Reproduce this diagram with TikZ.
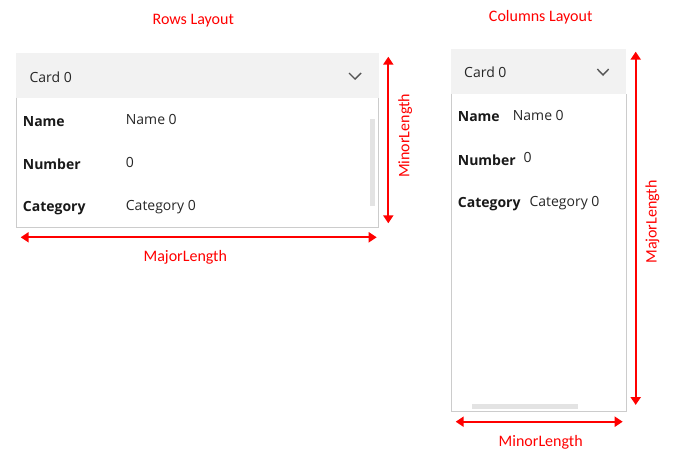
\documentclass[tikz,border=0pt]{standalone}
\usepackage{fontspec}
\setmainfont{Carlito}
\newfontfamily\uifont{Open Sans}
\usetikzlibrary{arrows.meta}

\definecolor{dimred}{rgb}{1,0,0}
\definecolor{headgray}{HTML}{F2F2F2}
\definecolor{edgegray}{HTML}{CCCCCC}
\definecolor{bargray}{HTML}{E3E3E3}
\definecolor{chevgray}{HTML}{555555}

\begin{document}
\begin{tikzpicture}[x=1pt, y=-1pt,
    dim/.style={dimred, line width=2pt, {Triangle[length=8pt,width=10pt]}-{Triangle[length=8pt,width=10pt]}},
    dimlabel/.style={dimred, inner sep=0pt, anchor=base, font=\fontsize{16}{18}\selectfont},
    title/.style={dimred, inner sep=0pt, anchor=base, font=\fontsize{16}{18}\selectfont},
    field/.style={inner sep=0pt, anchor=base west, text=black!90, font=\uifont\fontsize{14}{16}\selectfont\bfseries},
    value/.style={inner sep=0pt, anchor=base west, text=black!85, font=\uifont\fontsize{14}{16}\selectfont},
    chevron/.style={chevgray, line width=1.4pt}]
        \useasboundingbox (0,0) rectangle (674,456);

        % rows layout
        \node[title] (rowstitle) at (193.3,24) {Rows Layout};

        \fill[headgray] (16,52.7) rectangle (378.5,97.7);
        \draw[edgegray] (16.3,97.7) |- (378.5,227.3) -- (378.5,97.7);
        \fill[bargray] (370,119) rectangle (375,205.7);
        \draw[chevron] (349,73) -- (355,79) -- (361,73);

        \node[value] (rcard) at (29.3,82.3) {Card 0};
        \node[field] (rname) at (22.7,126) {Name};
        \node[field] (rnumber) at (22.7,169) {Number};
        \node[field] (rcategory) at (22.7,211.7) {Category};
        \node[value] (rnameval) at (125.7,124) {Name 0};
        \node[value] (rnumberval) at (125.7,167) {0};
        \node[value] (rcategoryval) at (125.7,210) {Category 0};

        \coordinate (rminortop) at (388.3,56.7);
        \coordinate (rminorbot) at (388.3,223.3);
        \coordinate (rmajorleft) at (20.7,237.3);
        \coordinate (rmajorright) at (376.7,237.3);
        \draw[dim] (rminortop) -- (rminorbot);
        \draw[dim] (rmajorleft) -- (rmajorright);
        \node[dimlabel, rotate=90] (rminor) at (409.3,135.8) {MinorLength};
        \node[dimlabel] (rmajor) at (185.3,261.7) {MajorLength};

        % columns layout
        \node[title] (colstitle) at (540.7,21.7) {Columns Layout};

        \fill[headgray] (451,49.3) rectangle (625.7,93.7);
        \draw[edgegray] (451.3,93.7) |- (625.7,411.3) -- (625.7,93.7);
        \fill[bargray] (472,404) rectangle (578,408.7);
        \draw[chevron] (597.3,69) -- (603,75) -- (608.7,69);

        \node[value] (ccard) at (464,77.7) {Card 0};
        \node[field] (cname) at (457.7,121.7) {Name};
        \node[field] (cnumber) at (457.7,165) {Number};
        \node[field] (ccategory) at (457.7,207.3) {Category};
        \node[value] (cnameval) at (512.7,120) {Name 0};
        \node[value] (cnumberval) at (523.3,162.7) {0};
        \node[value] (ccategoryval) at (529.3,206) {Category 0};

        \coordinate (cmajortop) at (635.7,51.7);
        \coordinate (cmajorbot) at (635.7,405);
        \coordinate (cminorleft) at (455.7,421.7);
        \coordinate (cminorright) at (622.7,421.7);
        \draw[dim] (cmajortop) -- (cmajorbot);
        \draw[dim] (cminorleft) -- (cminorright);
        \node[dimlabel, rotate=90] (cmajor) at (656.7,222) {MajorLength};
        \node[dimlabel] (cminor) at (540.7,446) {MinorLength};
    \end{tikzpicture}
\end{document}
